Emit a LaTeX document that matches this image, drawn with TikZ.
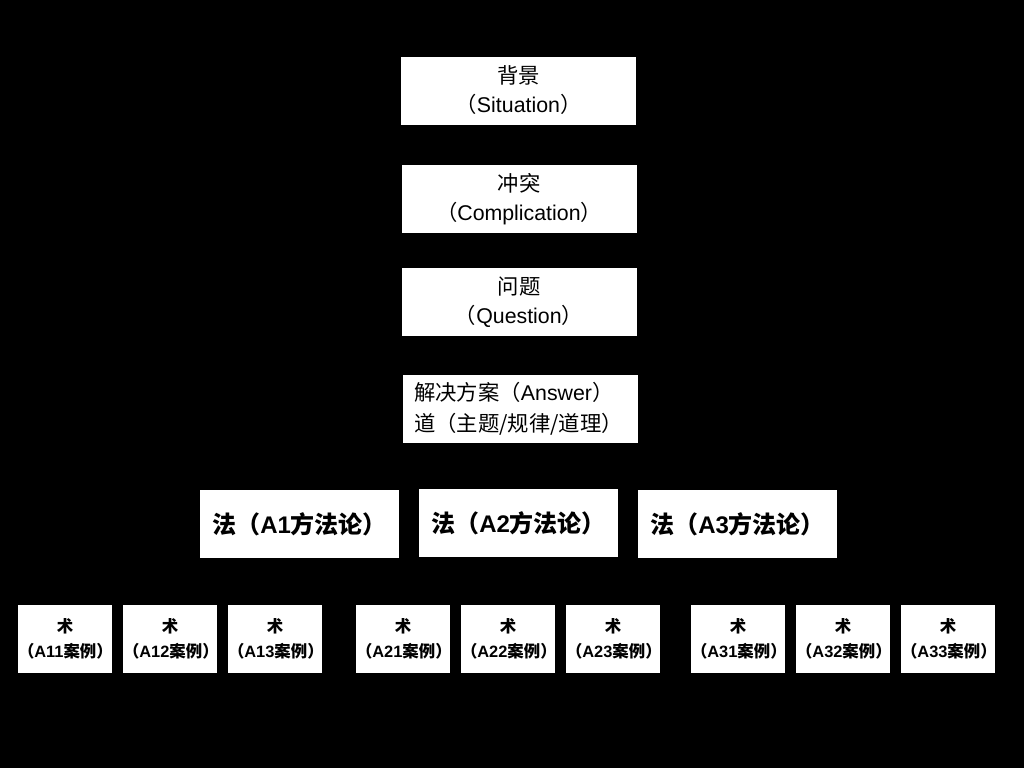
\documentclass[tikz,border=0pt]{standalone}
\usepackage{fontspec}
\setmainfont{Liberation Sans}
\newfontfamily\cjk{Noto Sans CJK SC}
\newfontfamily\cjkb{Noto Sans CJK SC Bold}
\newcommand{\zh}[1]{{\cjk #1}}
\newcommand{\zhb}[1]{{\cjkb #1}}
\begin{document}
\begin{tikzpicture}[x=0.75pt,y=-0.75pt,
  box/.style={fill=white,draw=none,inner sep=0pt,text=black},
  topbox/.style={box,minimum width=176.25pt,minimum height=51pt,align=center,
    font=\fontsize{16}{21.75}\selectfont},
  fabox/.style={box,minimum width=149.25pt,minimum height=51pt},
  fatext/.style={anchor=west,inner sep=0pt,font=\fontsize{18}{20}\selectfont\bfseries},
  shubox/.style={box,text width=70.5pt,minimum height=51pt,align=center,
    font=\fontsize{12.3}{18.75}\selectfont\bfseries}]
\fill[black] (0,0) rectangle (1024,768);
\useasboundingbox (0,0) rectangle (1024,768);

\node[topbox] (s) at (518.5,90.5) {\zh{背景}\\\zh{（}Situation\zh{）}};
\node[topbox] (c) at (519,199) {\zh{冲突}\\\zh{（}Complication\zh{）}};
\node[topbox] (q) at (519,302) {\zh{问题}\\\zh{（}Question\zh{）}};
\node[topbox] (a) at (520.5,409) {};
\node[anchor=west,align=left,inner sep=0pt,font=\fontsize{16}{23.25}\selectfont] (at) at (414,409)
  {\zh{解决方案（}Answer\zh{）}\\\zh{道（主题/规律/道理）}};

\node[fabox] (f1) at (299.5,524) {};
\node[fabox] (f2) at (518.5,523) {};
\node[fabox] (f3) at (737.5,524) {};
\node[fatext] (f1t) at (212,524) {\zhb{法（}A1\zhb{方法论）}};
\node[fatext] (f2t) at (431,523) {\zhb{法（}A2\zhb{方法论）}};
\node[fatext] (f3t) at (650,524) {\zhb{法（}A3\zhb{方法论）}};

\foreach \n/\x/\t in {s11/65/A11,s12/170/A12,s13/275/A13,s21/403/A21,s22/508/A22,s23/613/A23,s31/738/A31,s32/843/A32,s33/948/A33}
  \node[shubox] (\n) at (\x,639) {\zhb{术}\\\zhb{（}\t\zhb{案例）}};
\end{tikzpicture}
\end{document}
